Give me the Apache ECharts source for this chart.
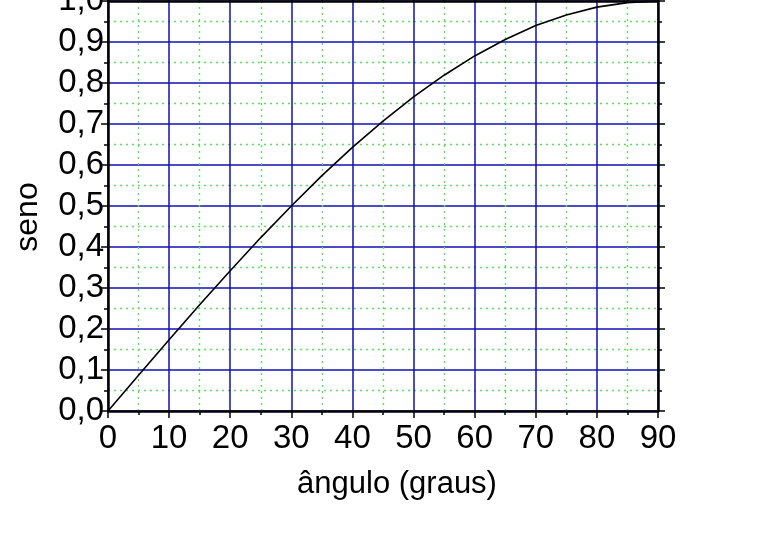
<!DOCTYPE html>
<html>
<head>
<meta charset="utf-8">
<script src="https://cdn.jsdelivr.net/npm/echarts@6/dist/echarts.min.js"></script>
<style>
html,body{margin:0;padding:0;background:#fff;}
#chart{width:760px;height:552px;}
</style>
</head>
<body>
<div id="chart"></div>
<script>
const angles = [0,5,10,15,20,25,30,35,40,45,50,55,60,65,70,75,80,85,90];
const sineValues = [0,0.087,0.174,0.259,0.342,0.423,0.5,0.574,0.643,0.707,0.766,0.819,0.866,0.906,0.940,0.966,0.985,0.996,1.0];
const yTickLabels = ['0,0','0,1','0,2','0,3','0,4','0,5','0,6','0,7','0,8','0,9','1,0'];
const xTickLabels = ['0','10','20','30','40','50','60','70','80','90'];
const xName = 'ângulo (graus)';
const yName = 'seno';

const FONT = 'Liberation Sans, Arial, Helvetica, sans-serif';
const points = angles.map((a,i)=>[a, sineValues[i]]);

const majorGrid = {show:true, lineStyle:{color:'#1010b0', width:1.5}};
const minorGrid = {show:true, lineStyle:{color:'#60dc60', width:1.4, type:[2,4]}};
const axisLine = {show:true, onZero:false, lineStyle:{color:'#000', width:2.5}};
const axisTick = {show:true, length:7, lineStyle:{color:'#000', width:1.5}};
const minorTick = {show:true, splitNumber:2, length:4, lineStyle:{color:'#000', width:1.5}};

const chart = echarts.init(document.getElementById('chart'));
chart.setOption({
  animation:false,
  backgroundColor:'#fff',
  grid:{left:108, right:102, top:1, bottom:141, containLabel:false, outerBoundsMode:'none'},
  xAxis:[{
    type:'value', position:'bottom', min:0, max:90, interval:10,
    name:xName, nameLocation:'middle', nameGap:58,
    nameTextStyle:{fontFamily:FONT, fontSize:31, color:'#000', padding:[0,0,0,28]},
    axisLine:axisLine, axisTick:axisTick, minorTick:minorTick,
    splitLine:majorGrid, minorSplitLine:minorGrid,
    axisLabel:{fontFamily:FONT, fontSize:33, color:'#000', margin:11,
      formatter:(v)=>xTickLabels[Math.round(v/10)]}
  },{
    type:'value', position:'top', min:0, max:90, interval:10,
    axisLine:axisLine, axisTick:axisTick, minorTick:minorTick,
    splitLine:{show:false}, minorSplitLine:{show:false}, axisLabel:{show:false}
  }],
  yAxis:[{
    type:'value', position:'left', min:0, max:1, interval:0.1,
    name:yName, nameLocation:'middle', nameGap:64,
    nameTextStyle:{fontFamily:FONT, fontSize:32, color:'#000', padding:[0,22,0,0]},
    axisLine:axisLine, axisTick:axisTick, minorTick:minorTick,
    splitLine:majorGrid, minorSplitLine:minorGrid,
    axisLabel:{fontFamily:FONT, fontSize:33, color:'#000', margin:4,
      formatter:(v)=>yTickLabels[Math.round(v*10)]}
  },{
    type:'value', position:'right', min:0, max:1, interval:0.1,
    axisLine:axisLine, axisTick:axisTick, minorTick:minorTick,
    splitLine:{show:false}, minorSplitLine:{show:false}, axisLabel:{show:false}
  }],
  series:[{
    type:'line', data:points, xAxisIndex:0, yAxisIndex:0,
    showSymbol:false, symbol:'none',
    lineStyle:{color:'#000', width:1.6}
  }]
});
</script>
</body>
</html>
